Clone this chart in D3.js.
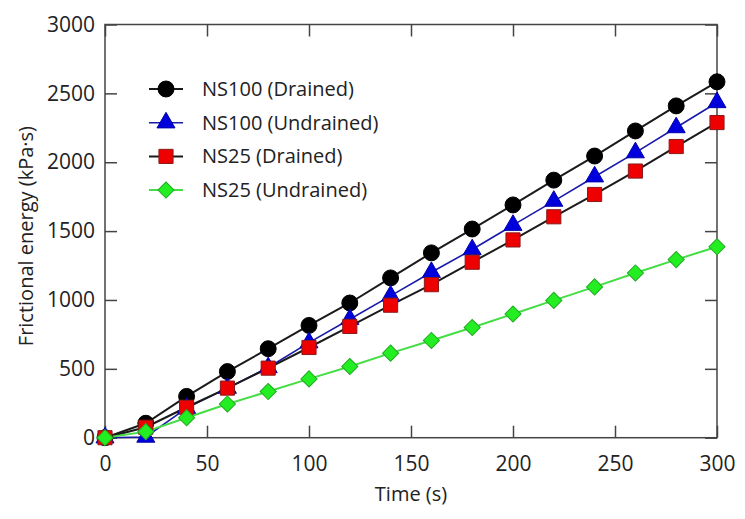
<!DOCTYPE html>
<html>
<head>
<meta charset="utf-8">
<script src="https://cdn.jsdelivr.net/npm/d3@7"></script>
<style>
  html, body { margin: 0; padding: 0; background: #fff; }
  svg { display: block; }
  text { font-family: "Open Sans", sans-serif; fill: #222; }
</style>
</head>
<body>
<svg id="chart" width="745" height="519"></svg>
<script>
const times = [0, 20, 40, 60, 80, 100, 120, 140, 160, 180, 200, 220, 240, 260, 280, 300];
const ns100Drained   = [0, 105, 300, 480, 646, 815, 978, 1160, 1342, 1515, 1690, 1870, 2045, 2227, 2409, 2584];
const ns100Undrained = [0, 5, 215, 360, 510, 690, 860, 1030, 1201, 1366, 1543, 1718, 1895, 2070, 2252, 2434];
const ns25Drained    = [0, 76, 221, 360, 505, 655, 808, 962, 1111, 1274, 1436, 1604, 1766, 1936, 2114, 2288];
const ns25Undrained  = [0, 44, 145, 245, 335, 427, 517, 614, 706, 800, 898, 997, 1095, 1196, 1293, 1386];
const seriesNames = ["NS100 (Drained)", "NS100 (Undrained)", "NS25 (Drained)", "NS25 (Undrained)"];
const xTicks = [0, 50, 100, 150, 200, 250, 300];
const yTicks = [0, 500, 1000, 1500, 2000, 2500, 3000];
const xLabel = "Time (s)";
const yLabel = "Frictional energy (kPa·s)";

const series = [
  { name: seriesNames[0], values: ns100Drained,   line: "#1a1a1a", fill: "#000000", stroke: "#000000", shape: d3.symbolCircle,   size: 200, rot: 0,  lw: 2 },
  { name: seriesNames[1], values: ns100Undrained, line: "#1a1aa8", fill: "#0000dd", stroke: "#0000aa", shape: d3.symbolTriangle, size: 140, rot: 0,  lw: 1.6 },
  { name: seriesNames[2], values: ns25Drained,    line: "#1a1a1a", fill: "#ee0000", stroke: "#8a1a1a", shape: d3.symbolSquare,   size: 200, rot: 0,  lw: 2 },
  { name: seriesNames[3], values: ns25Undrained,  line: "#44dd44", fill: "#22ee22", stroke: "#22aa22", shape: d3.symbolSquare,   size: 130, rot: 45, lw: 2 }
];

const svg = d3.select("#chart");
const L = 105, R = 717, T = 24.5, B = 437.7;
const x = d3.scaleLinear().domain([0, 300]).range([L, R]);
const y = d3.scaleLinear().domain([0, 3000]).range([B, T]);
const axisColor = "#444";

svg.append("rect").attr("x", L).attr("y", T).attr("width", R - L).attr("height", B - T)
  .attr("fill", "none").attr("stroke", axisColor).attr("stroke-width", 1.5);

function styleAxis(g) {
  g.select(".domain").remove();
  g.selectAll(".tick line").attr("stroke", axisColor).attr("stroke-width", 1.5);
  g.selectAll(".tick text").style("font-size", "21px").attr("fill", "#222");
}

svg.append("g").attr("transform", `translate(0,${B})`)
  .call(d3.axisBottom(x).tickValues(xTicks).tickSize(-12).tickPadding(18).tickFormat(d3.format("d")))
  .call(styleAxis);
svg.append("g").attr("transform", `translate(0,${T})`)
  .call(d3.axisTop(x).tickValues(xTicks).tickSize(-12).tickFormat(""))
  .call(styleAxis);
svg.append("g").attr("transform", `translate(${L},0)`)
  .call(d3.axisLeft(y).tickValues(yTicks).tickSize(-12).tickPadding(10).tickFormat(d3.format("d")))
  .call(styleAxis);
svg.append("g").attr("transform", `translate(${R},0)`)
  .call(d3.axisRight(y).tickValues(yTicks).tickSize(-12).tickFormat(""))
  .call(styleAxis);

svg.append("text").attr("x", (L + R) / 2).attr("y", 501).attr("text-anchor", "middle")
  .style("font-size", "20px").text(xLabel);
svg.append("text").attr("transform", `translate(33,${(T + B) / 2 + 5}) rotate(-90)`)
  .attr("text-anchor", "middle").style("font-size", "20px").text(yLabel);

const line = d3.line().x((d, i) => x(times[i])).y(d => y(d));

series.forEach(s => {
  svg.append("path").datum(s.values).attr("d", line)
    .attr("fill", "none").attr("stroke", s.line).attr("stroke-width", s.lw);
});
series.forEach(s => {
  svg.append("g").selectAll("path").data(s.values).join("path")
    .attr("transform", (d, i) => `translate(${x(times[i])},${y(d)}) rotate(${s.rot})`)
    .attr("d", d3.symbol().type(s.shape).size(s.size))
    .attr("fill", s.fill).attr("stroke", s.stroke).attr("stroke-width", 1);
});

const lg = svg.append("g");
series.forEach((s, i) => {
  const cy = 89 + i * 33.7;
  lg.append("line").attr("x1", 149).attr("x2", 183).attr("y1", cy).attr("y2", cy)
    .attr("stroke", s.line).attr("stroke-width", s.lw);
  lg.append("path").attr("transform", `translate(166,${cy}) rotate(${s.rot})`)
    .attr("d", d3.symbol().type(s.shape).size(s.size))
    .attr("fill", s.fill).attr("stroke", s.stroke).attr("stroke-width", 1);
  lg.append("text").attr("x", 202).attr("y", cy).attr("dy", "0.35em")
    .style("font-size", "20px").text(s.name);
});
</script>
</body>
</html>
